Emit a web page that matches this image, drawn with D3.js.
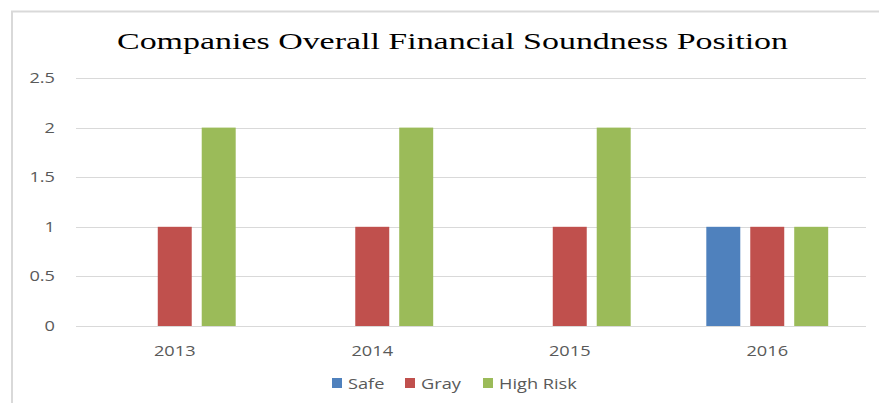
<!DOCTYPE html>
<html>
<head>
<meta charset="utf-8">
<script src="https://cdn.jsdelivr.net/npm/d3@7"></script>
<style>
  body { margin: 0; background: #fff; }
  svg { display: block; }
</style>
</head>
<body>
<div id="viz"></div>
<script>
const years = ["2013", "2014", "2015", "2016"];
const seriesNames = ["Safe", "Gray", "High Risk"];
const seriesColors = ["#4F81BD", "#C0504D", "#9BBB59"];
const safe = [0, 0, 0, 1];
const gray = [1, 1, 1, 1];
const highRisk = [2, 2, 2, 1];
const yTicks = [0, 0.5, 1, 1.5, 2, 2.5];

const width = 879, height = 403;
const margin = {top: 78, right: 13, bottom: 77, left: 76};
const stretch = 1.3; // the original's labels are drawn wide

const svg = d3.select('#viz')
    .append('svg')
    .attr('width', width)
    .attr('height', height);

// widen a text selection horizontally, keeping its anchor
function widen(sel) {
    sel.each(function() {
        const w = this.getComputedTextLength();
        d3.select(this)
            .attr('textLength', w * stretch)
            .attr('lengthAdjust', 'spacingAndGlyphs');
    });
}

// chart frame (top + left edge only visible)
svg.append('path')
    .attr('d', 'M12,' + height + ' V11.5 H' + width)
    .attr('fill', 'none')
    .attr('stroke', '#d9d9d9')
    .attr('stroke-width', 2);

// title
svg.append('text')
    .attr('x', 117)
    .attr('y', 49)
    .attr('textLength', 671)
    .attr('lengthAdjust', 'spacingAndGlyphs')
    .attr('font-family', 'Liberation Serif, Times New Roman, serif')
    .attr('font-size', 24)
    .attr('fill', '#000')
    .text('Companies  Overall  Financial  Soundness  Position');

const x0 = d3.scaleBand()
    .domain(years)
    .range([margin.left, width - margin.right]);

const x1 = d3.scaleBand()
    .domain(seriesNames)
    .range([0, x0.bandwidth()])
    .paddingInner(0.227)
    .paddingOuter(0.86);

const y = d3.scaleLinear()
    .domain([0, 2.5])
    .range([height - margin.bottom, margin.top]);

// gridlines
svg.append('g')
    .selectAll('line')
    .data(yTicks)
    .join('line')
    .attr('x1', margin.left)
    .attr('x2', width - margin.right)
    .attr('y1', d => Math.round(y(d)) + 0.5)
    .attr('y2', d => Math.round(y(d)) + 0.5)
    .attr('stroke', '#d9d9d9')
    .attr('stroke-width', 1);

// y labels
svg.append('g')
    .selectAll('text')
    .data(yTicks)
    .join('text')
    .attr('x', 55)
    .attr('y', d => y(d) + 5)
    .attr('text-anchor', 'end')
    .attr('font-family', 'Open Sans, sans-serif')
    .attr('font-size', 14)
    .attr('fill', '#595959')
    .text(d => d)
    .call(widen);

// bars
const values = [safe, gray, highRisk];
const barData = [];
years.forEach((yr, i) => {
    seriesNames.forEach((s, j) => {
        barData.push({year: yr, series: s, value: values[j][i], color: seriesColors[j]});
    });
});

svg.append('g')
    .selectAll('rect')
    .data(barData.filter(d => d.value > 0))
    .join('rect')
    .attr('x', d => x0(d.year) + x1(d.series))
    .attr('width', x1.bandwidth())
    .attr('y', d => y(d.value))
    .attr('height', d => y(0) - y(d.value))
    .attr('fill', d => d.color);

// x labels
svg.append('g')
    .selectAll('text')
    .data(years)
    .join('text')
    .attr('x', d => x0(d) + x0.bandwidth() / 2)
    .attr('y', 356)
    .attr('text-anchor', 'middle')
    .attr('font-family', 'Open Sans, sans-serif')
    .attr('font-size', 14)
    .attr('fill', '#595959')
    .text(d => d)
    .call(widen);

// legend
const legendX = [332, 405, 483];
const legend = svg.append('g')
    .selectAll('g')
    .data(seriesNames)
    .join('g')
    .attr('transform', (d, i) => 'translate(' + legendX[i] + ',378)');
legend.append('rect')
    .attr('width', 10)
    .attr('height', 10)
    .attr('fill', (d, i) => seriesColors[i]);
legend.append('text')
    .attr('x', 16)
    .attr('y', 10.5)
    .attr('font-family', 'Open Sans, sans-serif')
    .attr('font-size', 14)
    .attr('fill', '#595959')
    .text(d => d)
    .call(widen);
</script>
</body>
</html>
